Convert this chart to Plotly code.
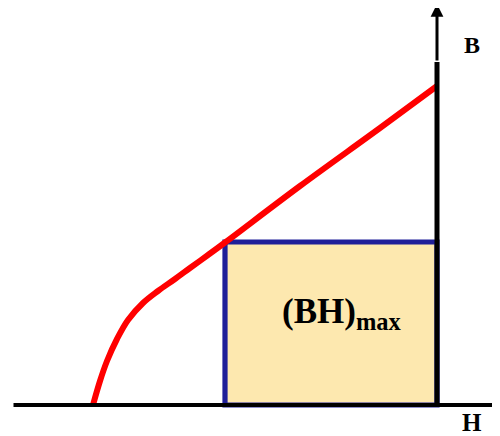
import plotly.graph_objects as go

# Demagnetization curve (H negative, B positive), origin at the B axis
curve_H = [-344, -337, -330, -320, -309, -294, -279, -262, -247, -229, -212, -137, -57, 0]
curve_B = [0, 24, 44, 66, 85, 102, 114, 126, 137, 150, 162.5, 219, 277, 319]

# (BH)max rectangle corner (operating point)
rect_H = [-212, 0]
rect_B = [0, 163]

# axis extents
h_axis = [-425, 70]
b_axis = [0, 343, 401]

label_text = "(BH)<sub>max</sub>"
label_pos = [-95, 92]
B_label_pos = [35, 360]
H_label_pos = [34.5, -17]

fig = go.Figure()

fig.add_shape(type="rect", xref="x", yref="y",
              x0=rect_H[0], x1=rect_H[1], y0=rect_B[0], y1=rect_B[1],
              fillcolor="#fde8af", line=dict(color="#1f1f99", width=5.2),
              layer="below")

fig.add_trace(go.Scatter(x=curve_H, y=curve_B, mode="lines",
                         line=dict(color="#ff0000", width=6, shape="spline", smoothing=1),
                         hoverinfo="skip", showlegend=False))

# B axis (thick lower part)
fig.add_trace(go.Scatter(x=[0, 0], y=[b_axis[0], b_axis[1]], mode="lines",
                         line=dict(color="black", width=5),
                         hoverinfo="skip", showlegend=False))

# B axis arrow (thin upper part)
fig.add_annotation(x=0, y=b_axis[2], ax=0, ay=b_axis[1], xref="x", yref="y",
                   axref="x", ayref="y", showarrow=True, arrowhead=2,
                   arrowsize=0.85, arrowwidth=3, arrowcolor="black", text="")

# H axis arrow
fig.add_annotation(x=h_axis[1], y=0, ax=h_axis[0], ay=0, xref="x", yref="y",
                   axref="x", ayref="y", showarrow=True, arrowhead=2,
                   arrowsize=0.6, arrowwidth=4, arrowcolor="black", text="")

font_family = "Liberation Serif, Times New Roman, serif"
fig.add_annotation(x=label_pos[0], y=label_pos[1], xref="x", yref="y",
                   text=label_text, showarrow=False,
                   font=dict(family=font_family, size=35, color="black", weight="bold"))
fig.add_annotation(x=B_label_pos[0], y=B_label_pos[1], xref="x", yref="y",
                   text="B", showarrow=False,
                   font=dict(family=font_family, size=24, color="black", weight="bold"))
fig.add_annotation(x=H_label_pos[0], y=H_label_pos[1], xref="x", yref="y",
                   text="H", showarrow=False,
                   font=dict(family=font_family, size=25, color="black", weight="bold"))

# ranges offset by the page's 8px body margin
fig.update_layout(
    width=500, height=436,
    margin=dict(l=0, r=0, t=0, b=0),
    paper_bgcolor="white", plot_bgcolor="white",
    xaxis=dict(range=[-429, 71], visible=False, fixedrange=True),
    yaxis=dict(range=[-39, 397], visible=False, fixedrange=True),
    showlegend=False,
)

fig.write_html("out.html")
